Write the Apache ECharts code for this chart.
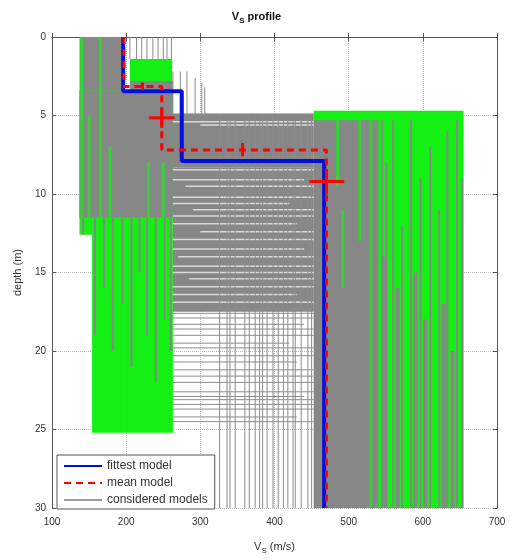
<!DOCTYPE html>
<html><head><meta charset="utf-8">
<script src="https://cdn.jsdelivr.net/npm/echarts@6/dist/echarts.min.js"></script>
<style>html,body{margin:0;padding:0;background:#fff}#c{width:513px;height:560px}</style>
</head><body><div id="c"></div>
<script>
// ---------- axis ticks ----------
const xTicks = [100, 200, 300, 400, 500, 600, 700];
const yTicks = [0, 5, 10, 15, 20, 25, 30];

// ---------- fittest model (step profile) ----------
const fittestVs    = [196, 196, 275, 275, 467, 467];
const fittestDepth = [0, 3.45, 3.45, 7.9, 7.9, 30];

// ---------- mean model ----------
const meanVs    = [197, 197, 248, 248, 470, 470];
const meanDepth = [0, 3.15, 3.15, 7.2, 7.2, 30];

// ---------- mean model uncertainty crosses ----------
const errVs        = [222, 248, 357, 470];
const errDepth     = [3.15, 5.15, 7.2, 9.2];
const errVsLow     = [222, 231, 357, 447];
const errVsHigh    = [222, 265, 357, 494];
const errDepthLow  = [2.9, 4.5, 6.75, 8.4];
const errDepthHigh = [3.4, 5.8, 7.6, 10.0];

// ---------- considered models: green class envelopes [VsMin, VsMax, top, bottom] ----------
const greenBlocks = [
  [137, 154, 0, 12.6],
  [154, 197, 0, 25.2],
  [197, 263, 3.4, 25.2],
  [205, 262, 1.4, 2.8],
  [453, 655, 4.7, 30]
];
// ---------- considered models: dense grey envelopes ----------
const greyBlocks = [
  [142, 197, 0, 3.4],
  [205, 263, 2.8, 3.4],
  [137, 263, 3.4, 11.5],
  [263, 453, 4.9, 8.3],
  [263, 453, 8.3, 17.5],
  [453, 540, 5.3, 30]
];
// light gaps between interface clusters [depth, VsFrom, VsTo]
const gapLines = [
  [5.4, 263, 453], [5.6, 300, 453],
  [8.45, 263, 453], [9.1, 263, 440], [9.5, 280, 453], [10.2, 263, 453], [10.6, 263, 420],
  [11.0, 290, 453], [11.4, 263, 453], [11.9, 263, 430], [12.4, 300, 453], [12.9, 263, 453],
  [13.5, 263, 440], [14.0, 270, 453], [14.6, 263, 453], [15.0, 263, 453], [15.4, 285, 453],
  [15.9, 263, 453], [16.4, 263, 430], [16.9, 263, 453]
];
// green model traces over grey [Vs, top, bottom]
const greenTraces = [
  [140, 0, 11.5], [150, 5, 11.5], [165, 0, 11.5], [178, 7, 11.5], [230, 8, 11.5], [250, 8, 11.5],
  [485, 5.3, 9.5], [492, 11, 16], [515, 5.3, 13], [530, 5.3, 30]
];
// grey model traces over the left green envelope [Vs, top, bottom]
const greyTracesLeft = [
  [142, 11.5, 12.6], [158, 11.5, 19], [170, 11.5, 16], [182, 11.5, 20], [195, 11.5, 17],
  [207, 11.5, 21], [218, 11.5, 15], [228, 11.5, 19], [240, 11.5, 22], [252, 11.5, 18], [260, 11.5, 20]
];
// grey model traces over the right green envelope [Vs, top, bottom]
const greyTracesRight = [
  [545, 5.3, 30], [551, 8, 30], [560, 5.3, 30], [572, 12, 30], [584, 5.3, 30], [597, 9, 30],
  [610, 7, 30], [622, 11, 30], [633, 6, 30], [646, 5.3, 30], [653, 9, 30]
];
// deeper, denser grey traces in the right envelope [Vs, top, bottom]
const greyTracesRightDeep = [
  [548, 14, 30], [566, 16, 30], [590, 15, 30], [603, 18, 30], [628, 17, 30], [640, 20, 30]
];
// thin grey model lines: vertical [Vs, top, bottom]
const greyVertical = [
  [205, 0, 1.4], [214, 0, 1.4], [221, 0, 1.4], [228, 0, 1.4], [236, 0, 1.4], [243, 0, 1.4],
  [250, 0, 1.4], [255, 0, 1.4], [261, 0, 1.4],
  [263, 2.2, 5], [273, 2.2, 5], [282, 2.2, 5], [293, 2.6, 5], [302, 2.9, 5], [306, 3.2, 5],
  [326, 4.9, 30], [336, 4.9, 30], [340, 4.9, 30], [347, 4.9, 30], [360, 4.9, 30], [366, 4.9, 30],
  [374, 4.9, 30], [380, 4.9, 30], [384, 4.9, 30], [390, 4.9, 30], [398, 4.9, 30], [405, 4.9, 30],
  [412, 4.9, 30], [418, 4.9, 30], [425, 4.9, 30], [428, 4.9, 30], [436, 4.9, 30], [445, 4.9, 30], [450, 4.9, 30]
];
// thin grey model lines: horizontal interfaces [depth, VsFrom, VsTo]
const greyHorizontal = [
  [4.9, 263, 453], [17.6, 263, 453], [17.9, 263, 453], [18.3, 263, 440],
  [18.6, 263, 453], [19.0, 263, 453], [19.5, 263, 420], [19.8, 263, 453], [20.3, 263, 453],
  [20.7, 263, 430], [21.2, 263, 453], [21.6, 263, 453], [22.0, 263, 453], [22.6, 263, 453],
  [22.9, 263, 440], [23.1, 263, 453], [23.4, 263, 453], [23.7, 263, 453], [24.2, 263, 430], [24.5, 263, 453]
];

const FONT = '"Liberation Sans", Arial, sans-serif';
const GREY = '#878787';
const GREEN = '#14f014';

function rectSeries(name, data, color) {
  return {
    type: 'custom', name, data, clip: true, silent: true,
    encode: { x: [0, 1], y: [2, 3] },
    renderItem(params, api) {
      const a = api.coord([api.value(0), api.value(2)]);
      const b = api.coord([api.value(1), api.value(3)]);
      return { type: 'rect', shape: { x: a[0], y: a[1], width: b[0] - a[0], height: b[1] - a[1] }, style: { fill: color } };
    }
  };
}
function vSeries(name, data, color, width) {
  return {
    type: 'custom', name, data, clip: true, silent: true,
    encode: { x: 0, y: [1, 2] },
    renderItem(params, api) {
      const a = api.coord([api.value(0), api.value(1)]);
      const b = api.coord([api.value(0), api.value(2)]);
      return { type: 'line', shape: { x1: a[0], y1: a[1], x2: b[0], y2: b[1] }, style: { stroke: color, lineWidth: width } };
    }
  };
}
function hSeries(name, data, color, width) {
  return {
    type: 'custom', name, data, clip: true, silent: true,
    encode: { y: 0, x: [1, 2] },
    renderItem(params, api) {
      const a = api.coord([api.value(1), api.value(0)]);
      const b = api.coord([api.value(2), api.value(0)]);
      return { type: 'line', shape: { x1: a[0], y1: a[1], x2: b[0], y2: b[1] }, style: { stroke: color, lineWidth: width } };
    }
  };
}

const errH = errVs.map((v, i) => [errDepth[i], errVsLow[i], errVsHigh[i]]);
const errV = errVs.map((v, i) => [v, errDepthLow[i], errDepthHigh[i]]);

const axisCommon = {
  type: 'value',
  axisLine: { show: true, lineStyle: { color: '#555', width: 1 } },
  axisTick: { show: true, inside: true, length: 4, lineStyle: { color: '#555' } },
};

const chart = echarts.init(document.getElementById('c'), null, { renderer: 'canvas' });
chart.setOption({
  animation: false,
  backgroundColor: '#fff',
  title: {
    text: '{v|V}{s|S}{v| profile}', left: 'center', top: 4,
    textStyle: { rich: {
      v: { fontFamily: FONT, fontSize: 11, fontWeight: 'bold', color: '#111', lineHeight: 16, verticalAlign: 'middle' },
      s: { fontFamily: FONT, fontSize: 8, fontWeight: 'bold', color: '#111', lineHeight: 16, verticalAlign: 'bottom' }
    } }
  },
  grid: { left: 52, right: 16, top: 37, bottom: 44, containLabel: false },
  legend: {
    data: ['fittest model', 'mean model', 'considered models'],
    orient: 'vertical', left: 57, top: 455,
    itemWidth: 38, itemHeight: 14, itemGap: 5,
    padding: [5, 7, 3, 6],
    backgroundColor: '#fff', borderColor: '#555', borderWidth: 1,
    itemStyle: { opacity: 0 },
    textStyle: { fontFamily: FONT, fontSize: 12, color: '#333' },
    selectedMode: false
  },
  xAxis: [
    Object.assign({}, axisCommon, {
      position: 'bottom', min: xTicks[0], max: xTicks[xTicks.length - 1], interval: xTicks[1] - xTicks[0],
      name: '{v|V}{s|S}{v| (m/s)}', nameLocation: 'middle', nameGap: 31,
      nameTextStyle: { rich: {
        v: { fontFamily: FONT, fontSize: 11, color: '#333', lineHeight: 16, verticalAlign: 'middle' },
        s: { fontFamily: FONT, fontSize: 8, color: '#333', lineHeight: 16, verticalAlign: 'bottom' }
      } },
      axisLabel: { fontFamily: FONT, fontSize: 10, color: '#333', margin: 9 },
      splitLine: { show: true, lineStyle: { color: '#bbb', type: 'dotted' } }
    }),
    Object.assign({}, axisCommon, {
      position: 'top', min: xTicks[0], max: xTicks[xTicks.length - 1], interval: xTicks[1] - xTicks[0],
      axisLabel: { show: false }, splitLine: { show: false }
    })
  ],
  yAxis: [
    Object.assign({}, axisCommon, {
      position: 'left', inverse: true, min: yTicks[0], max: yTicks[yTicks.length - 1], interval: yTicks[1] - yTicks[0],
      name: 'depth (m)', nameLocation: 'middle', nameGap: 29,
      nameTextStyle: { fontFamily: FONT, fontSize: 11, color: '#333' },
      axisLabel: { fontFamily: FONT, fontSize: 10, color: '#333', margin: 6 },
      splitLine: { show: true, lineStyle: { color: '#bbb', type: 'dotted' } }
    }),
    Object.assign({}, axisCommon, {
      position: 'right', inverse: true, min: yTicks[0], max: yTicks[yTicks.length - 1], interval: yTicks[1] - yTicks[0],
      axisLabel: { show: false }, splitLine: { show: false }
    })
  ],
  series: [
    rectSeries('green envelopes', greenBlocks, GREEN),
    rectSeries('grey envelopes', greyBlocks, GREY),
    hSeries('gaps', gapLines, '#d9d9d9', 1.5),
    vSeries('green traces', greenTraces, '#38d038', 3),
    vSeries('grey traces left', greyTracesLeft, GREY, 2),
    vSeries('grey traces right', greyTracesRight, GREY, 2),
    vSeries('grey traces right deep', greyTracesRightDeep, GREY, 4),
    vSeries('grey lines v', greyVertical, '#8c8c8c', 1),
    hSeries('grey lines h', greyHorizontal, '#8c8c8c', 1),
    { type: 'line', name: 'considered models', data: [], symbol: 'none', lineStyle: { color: '#999', width: 1 }, itemStyle: { color: '#999' } },
    { type: 'line', name: 'fittest model', data: fittestVs.map((v, i) => [v, fittestDepth[i]]), symbol: 'none',
      lineStyle: { color: '#0010e0', width: 4 }, itemStyle: { color: '#0010e0' }, z: 5 },
    { type: 'line', name: 'mean model', data: meanVs.map((v, i) => [v, meanDepth[i]]), symbol: 'none',
      lineStyle: { color: '#ff0000', width: 3, type: [7, 5] }, itemStyle: { color: '#ff0000' }, z: 6 },
    Object.assign(hSeries('err h', errH, '#ff0000', 3), { z: 7 }),
    Object.assign(vSeries('err v', errV, '#ff0000', 3), { z: 7 })
  ]
});
</script></body></html>
